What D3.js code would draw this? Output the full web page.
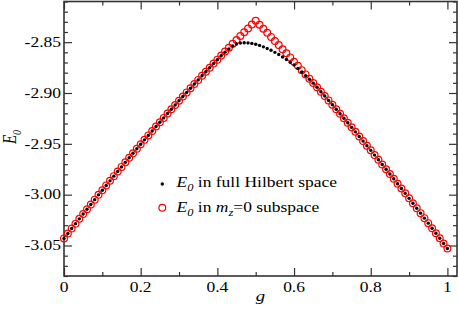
<!DOCTYPE html>
<html><head><meta charset="utf-8">
<script src="https://cdn.jsdelivr.net/npm/d3@7"></script>
<style>body{margin:0;background:#fff}svg{display:block}</style>
</head><body>
<svg id="c" width="458" height="309" font-family="'Liberation Serif', 'DejaVu Serif', serif"></svg>
<script>
// g values 0.00 .. 1.00 step 0.01
const gValues = [0.00,0.01,0.02,0.03,0.04,0.05,0.06,0.07,0.08,0.09,0.10,0.11,0.12,0.13,0.14,0.15,0.16,0.17,0.18,0.19,0.20,0.21,0.22,0.23,0.24,0.25,0.26,0.27,0.28,0.29,0.30,0.31,0.32,0.33,0.34,0.35,0.36,0.37,0.38,0.39,0.40,0.41,0.42,0.43,0.44,0.45,0.46,0.47,0.48,0.49,0.50,0.51,0.52,0.53,0.54,0.55,0.56,0.57,0.58,0.59,0.60,0.61,0.62,0.63,0.64,0.65,0.66,0.67,0.68,0.69,0.70,0.71,0.72,0.73,0.74,0.75,0.76,0.77,0.78,0.79,0.80,0.81,0.82,0.83,0.84,0.85,0.86,0.87,0.88,0.89,0.90,0.91,0.92,0.93,0.94,0.95,0.96,0.97,0.98,0.99,1.00];
// E0 in mz=0 subspace (red circles)
const eSubspace = [-3.0430,-3.0382,-3.0333,-3.0285,-3.0238,-3.0190,-3.0143,-3.0096,-3.0049,-3.0002,-2.9956,-2.9909,-2.9864,-2.9818,-2.9772,-2.9727,-2.9682,-2.9637,-2.9593,-2.9549,-2.9504,-2.9461,-2.9417,-2.9374,-2.9330,-2.9288,-2.9245,-2.9202,-2.9160,-2.9118,-2.9076,-2.9035,-2.8994,-2.8953,-2.8912,-2.8871,-2.8831,-2.8791,-2.8751,-2.8711,-2.8672,-2.8632,-2.8593,-2.8555,-2.8516,-2.8478,-2.8440,-2.8402,-2.8365,-2.8327,-2.8290,-2.8329,-2.8369,-2.8408,-2.8448,-2.8488,-2.8528,-2.8569,-2.8609,-2.8650,-2.8692,-2.8733,-2.8775,-2.8817,-2.8859,-2.8901,-2.8944,-2.8987,-2.9030,-2.9073,-2.9116,-2.9160,-2.9204,-2.9248,-2.9293,-2.9338,-2.9382,-2.9428,-2.9473,-2.9519,-2.9564,-2.9611,-2.9657,-2.9703,-2.9750,-2.9797,-2.9844,-2.9892,-2.9940,-2.9987,-3.0036,-3.0084,-3.0133,-3.0182,-3.0231,-3.0280,-3.0330,-3.0379,-3.0429,-3.0480,-3.0530];
// E0 in full Hilbert space (black dots)
const eFull = [-3.0430,-3.0382,-3.0333,-3.0285,-3.0238,-3.0190,-3.0143,-3.0096,-3.0049,-3.0002,-2.9956,-2.9909,-2.9864,-2.9818,-2.9772,-2.9727,-2.9682,-2.9637,-2.9593,-2.9549,-2.9504,-2.9461,-2.9417,-2.9374,-2.9330,-2.9288,-2.9245,-2.9202,-2.9160,-2.9118,-2.9076,-2.9035,-2.8994,-2.8953,-2.8912,-2.8871,-2.8831,-2.8791,-2.8751,-2.8711,-2.8673,-2.8634,-2.8598,-2.8566,-2.8537,-2.8518,-2.8508,-2.8505,-2.8507,-2.8512,-2.8520,-2.8532,-2.8546,-2.8562,-2.8580,-2.8600,-2.8622,-2.8646,-2.8671,-2.8697,-2.8724,-2.8758,-2.8793,-2.8829,-2.8865,-2.8903,-2.8944,-2.8987,-2.9030,-2.9073,-2.9116,-2.9160,-2.9204,-2.9248,-2.9293,-2.9338,-2.9382,-2.9428,-2.9473,-2.9519,-2.9564,-2.9611,-2.9657,-2.9703,-2.9750,-2.9797,-2.9844,-2.9892,-2.9940,-2.9987,-3.0036,-3.0084,-3.0133,-3.0182,-3.0231,-3.0280,-3.0330,-3.0379,-3.0429,-3.0480,-3.0530];
const xTicks = [0, 0.2, 0.4, 0.6, 0.8, 1];
const xTickLabels = ["0", "0.2", "0.4", "0.6", "0.8", "1"];
const xMinorTicks = [0.1, 0.3, 0.5, 0.7, 0.9];
const yTicks = [-3.05, -3.00, -2.95, -2.90, -2.85];
const yTickLabels = ["-3.05", "-3.00", "-2.95", "-2.90", "-2.85"];
const yMinorTicks = [-3.08,-3.07,-3.06,-3.04,-3.03,-3.02,-3.01,-2.99,-2.98,-2.97,-2.96,-2.94,-2.93,-2.92,-2.91,-2.89,-2.88,-2.87,-2.86,-2.84,-2.83,-2.82,-2.81];

const svg = d3.select("#c");
const L = 64, R = 457, T = 1.5, B = 276;
const SX = 1.25;
const x = d3.scaleLinear().domain([0, 1.025]).range([L, R]);
const y = d3.scaleLinear().domain([-3.08, -2.81]).range([B, T]);
const axCol = "#333";

function styleAxis(g){ g.select(".domain").remove(); g.selectAll("line").attr("stroke", axCol).attr("stroke-width", 1.2); }
svg.append("g").attr("transform",`translate(0,${B})`).call(d3.axisBottom(x).tickValues(xTicks).tickSize(-8).tickFormat("")).call(styleAxis);
svg.append("g").attr("transform",`translate(0,${B})`).call(d3.axisBottom(x).tickValues(xMinorTicks).tickSize(-4).tickFormat("")).call(styleAxis);
svg.append("g").attr("transform",`translate(0,${T})`).call(d3.axisTop(x).tickValues(xTicks).tickSize(-8).tickFormat("")).call(styleAxis);
svg.append("g").attr("transform",`translate(0,${T})`).call(d3.axisTop(x).tickValues(xMinorTicks).tickSize(-4).tickFormat("")).call(styleAxis);
svg.append("g").attr("transform",`translate(${L},0)`).call(d3.axisLeft(y).tickValues(yTicks).tickSize(-8).tickFormat("")).call(styleAxis);
svg.append("g").attr("transform",`translate(${L},0)`).call(d3.axisLeft(y).tickValues(yMinorTicks).tickSize(-4).tickFormat("")).call(styleAxis);
svg.append("g").attr("transform",`translate(${R},0)`).call(d3.axisRight(y).tickValues(yTicks).tickSize(-8).tickFormat("")).call(styleAxis);
svg.append("g").attr("transform",`translate(${R},0)`).call(d3.axisRight(y).tickValues(yMinorTicks).tickSize(-4).tickFormat("")).call(styleAxis);
svg.append("rect").attr("x",L).attr("y",T).attr("width",R-L).attr("height",B-T)
  .attr("fill","none").attr("stroke",axCol).attr("stroke-width",1.6);

svg.append("g").selectAll("text").data(xTicks).join("text")
  .attr("transform", d => `translate(${x(d)},291.7) scale(${SX},1)`)
  .attr("text-anchor","middle").attr("font-size",14)
  .text((d,i) => xTickLabels[i]);
svg.append("g").selectAll("text").data(yTicks).join("text")
  .attr("transform", d => `translate(61,${y(d)+4.8}) scale(${SX},1)`)
  .attr("text-anchor","end").attr("font-size",14)
  .text((d,i) => yTickLabels[i]);

svg.append("text").attr("transform",`translate(${(L+R)/2},301) scale(${SX},1)`)
  .attr("text-anchor","middle").attr("font-size",15).attr("font-style","italic").text("g");
const yt = svg.append("text").attr("transform",`translate(16,137) scale(${SX},1) rotate(-90)`)
  .attr("text-anchor","middle").attr("font-size",15).attr("font-style","italic");
yt.append("tspan").text("E");
yt.append("tspan").attr("font-size",10).attr("dy",4).text("0");

svg.append("g").selectAll("circle").data(gValues).join("circle")
  .attr("cx", d => x(d)).attr("cy", (d,i) => y(eSubspace[i])).attr("r", 3.4)
  .attr("fill","none").attr("stroke","#ff0000").attr("stroke-width",1.2);
svg.append("g").selectAll("circle").data(gValues).join("circle")
  .attr("cx", d => x(d)).attr("cy", (d,i) => y(eFull[i])).attr("r", 1.7)
  .attr("fill","#000");

svg.append("circle").attr("cx",162.3).attr("cy",184).attr("r",1.7).attr("fill","#000");
svg.append("circle").attr("cx",162.3).attr("cy",207.7).attr("r",3.4).attr("fill","none").attr("stroke","#ff0000").attr("stroke-width",1.2);
const l1 = svg.append("text").attr("transform",`translate(176.5,187.3) scale(${SX},1)`).attr("font-size",14);
l1.append("tspan").attr("font-style","italic").text("E");
l1.append("tspan").attr("font-style","italic").attr("font-size",10).attr("dy",4).text("0");
l1.append("tspan").attr("dy",-4).text(" in full Hilbert space");
const l2 = svg.append("text").attr("transform",`translate(176.5,211.7) scale(${SX},1)`).attr("font-size",14);
l2.append("tspan").attr("font-style","italic").text("E");
l2.append("tspan").attr("font-style","italic").attr("font-size",10).attr("dy",4).text("0");
l2.append("tspan").attr("dy",-4).text(" in ");
l2.append("tspan").attr("font-style","italic").text("m");
l2.append("tspan").attr("font-style","italic").attr("font-size",10).attr("dy",4).text("z");
l2.append("tspan").attr("dy",-4).text("=0 subspace");
</script>
</body></html>
